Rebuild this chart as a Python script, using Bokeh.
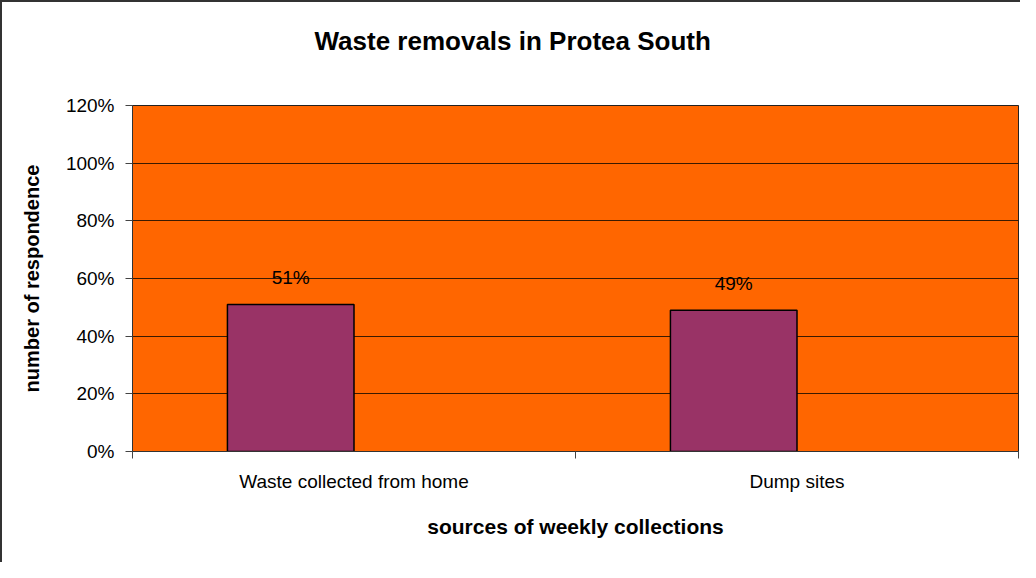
import numpy as np
from bokeh.plotting import figure
from bokeh.models import (ColumnDataSource, FixedTicker, NumeralTickFormatter,
                          Range1d, LabelSet)
from bokeh.core.properties import value
from bokeh.embed import file_html
from bokeh.resources import INLINE

# ---- data ----
categories = ["Waste collected from home", "Dump sites"]
values = [0.51, 0.49]
value_labels = ["51%", "49%"]
y_ticks = [0.0, 0.2, 0.4, 0.6, 0.8, 1.0, 1.2]

title_text = "Waste removals in Protea South"
x_title = "sources of weekly collections"
y_title = "number of respondence"

# ---- layout helpers ----
n = len(categories)
bar_w = 1 / 3.5  # Excel: two series slots + 150% gap, only the first used
centers = np.arange(n) + 0.5
xs = centers - bar_w / 2

src = ColumnDataSource(dict(x=xs, top=values, lab=value_labels))

p = figure(width=1020, height=562, output_backend="svg", toolbar_location=None,
           x_range=Range1d(0, n), y_range=Range1d(0, 1.2),
           min_border_left=130, min_border_right=4, min_border_top=103,
           min_border_bottom=113)

p.background_fill_color = "#FF6600"
p.border_fill_color = "white"
p.outline_line_color = "#222222"
p.outline_line_width = 1

# title (a blank second line lifts the title away from the plot area)
p.title.text = title_text + "\n "
p.title.align = "left"
p.title.offset = 182
p.title.text_font = "Liberation Sans"
p.title.text_font_style = "bold"
p.title.text_font_size = "26px"
p.title.text_color = "black"
p.title.standoff = 40

p.vbar(x="x", top="top", width=bar_w, bottom=0, source=src,
       fill_color="#993366", line_color="black", line_width=1.5)

labels = LabelSet(x="x", y="top", text="lab", source=src, text_align="center",
                  text_baseline="bottom", y_offset=16,
                  text_font=value("Liberation Sans"), text_font_size=value("19px"),
                  text_color="black")
p.add_layout(labels)

# x axis
xa = p.xaxis[0]
xa.ticker = FixedTicker(ticks=list(centers), minor_ticks=list(range(n + 1)))
xa.major_label_overrides = {float(c): cat for c, cat in zip(centers, categories)}
xa.major_tick_out = 0
xa.major_tick_in = 0
xa.minor_tick_out = 7
xa.minor_tick_in = 0
xa.minor_tick_line_color = "#444444"
xa.axis_line_color = "#333333"
xa.major_label_standoff = 12
xa.major_label_text_font = "Liberation Sans"
xa.major_label_text_font_size = "19px"
xa.major_label_text_color = "black"
xa.axis_label = x_title
xa.axis_label_text_font = "Liberation Sans"
xa.axis_label_text_font_style = "bold"
xa.axis_label_text_font_size = "21px"
xa.axis_label_text_color = "black"
xa.axis_label_standoff = 20

# y axis
ya = p.yaxis[0]
ya.ticker = FixedTicker(ticks=y_ticks)
ya.formatter = NumeralTickFormatter(format="0%")
ya.major_tick_out = 7
ya.major_tick_in = 0
ya.minor_tick_line_color = None
ya.axis_line_color = "#333333"
ya.major_tick_line_color = "#444444"
ya.major_label_standoff = 11
ya.major_label_text_font = "Liberation Sans"
ya.major_label_text_font_size = "19px"
ya.major_label_text_color = "black"
ya.axis_label = y_title
ya.axis_label_text_font = "Liberation Sans"
ya.axis_label_text_font_style = "bold"
ya.axis_label_text_font_size = "20px"
ya.axis_label_text_color = "black"
ya.axis_label_standoff = 20

p.xgrid.grid_line_color = None
p.ygrid.grid_line_color = "#3a1a00"
p.ygrid.grid_line_width = 1
p.ygrid.ticker = FixedTicker(ticks=y_ticks)

p.styles = {"border-left": "2px solid #333333", "border-top": "2px solid #333333"}

open("out.html", "w").write(file_html(p, INLINE))
